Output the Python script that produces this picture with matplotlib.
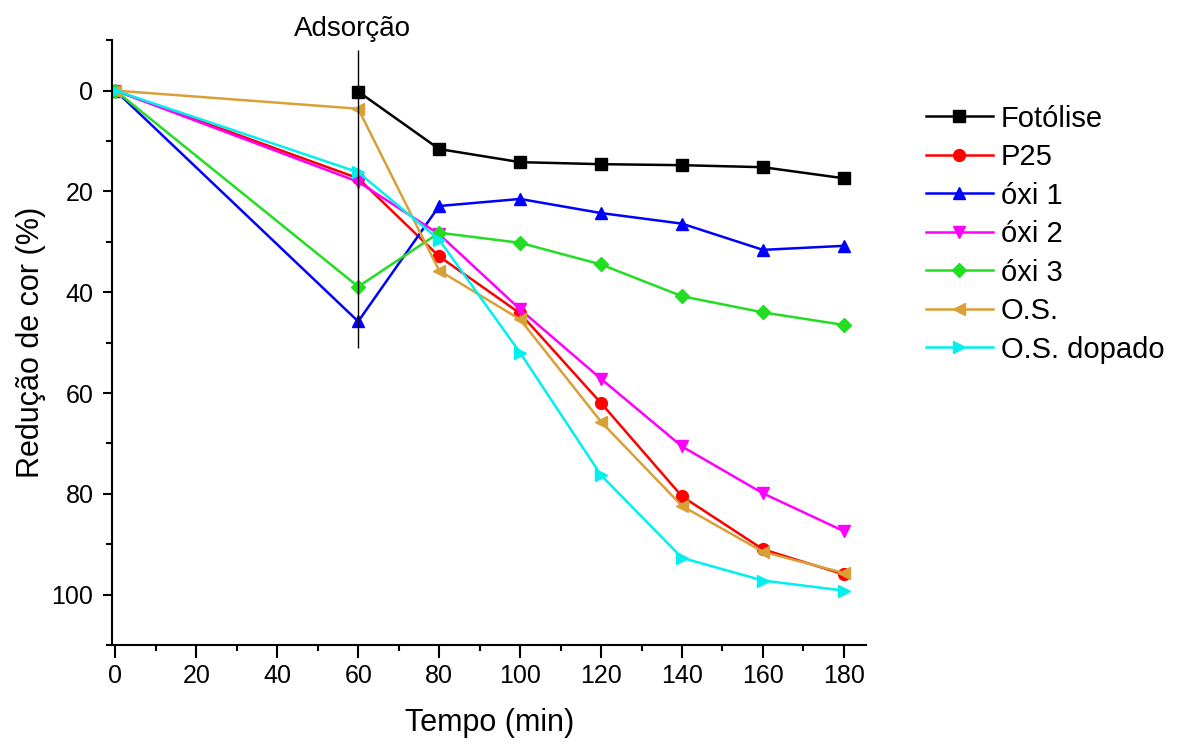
import numpy as np
import matplotlib
matplotlib.use("Agg")
import matplotlib.pyplot as plt
from matplotlib.ticker import MultipleLocator

plt.rcParams['font.family'] = ['Liberation Sans', 'DejaVu Sans']

# dados (tempo em min, reducao de cor em %)
tempo = [0, 60, 80, 100, 120, 140, 160, 180]
tempo_fot = [60, 80, 100, 120, 140, 160, 180]

fotolise = [0.2, 11.6, 14.2, 14.6, 14.8, 15.2, 17.4]
p25 = [0, 17.4, 32.9, 44.2, 62.0, 80.5, 91.0, 96.0]
oxi1 = [0, 45.8, 22.9, 21.5, 24.3, 26.4, 31.6, 30.8]
oxi2 = [0, 18.1, 28.5, 43.4, 57.2, 70.6, 79.9, 87.4]
oxi3 = [0, 38.9, 28.2, 30.2, 34.5, 40.8, 44.0, 46.5]
os_ = [0, 3.6, 35.7, 45.4, 65.7, 82.4, 91.5, 95.7]
os_dop = [0, 16.2, 29.6, 52.0, 76.3, 92.7, 97.2, 99.2]

fig = plt.figure(figsize=(11.93, 7.44), dpi=100)
ax = fig.add_axes([0.094, 0.133, 0.632, 0.813])

kw = dict(lw=1.8, ms=8.5)
ax.plot(tempo_fot, fotolise, '-s', color='black', label='Fotólise', lw=1.8, ms=8)
ax.plot(tempo, p25, '-o', color='#FF0000', label='P25', **kw)
ax.plot(tempo, oxi1, '-^', color='#0000FF', label='óxi 1', **kw)
ax.plot(tempo, oxi2, '-v', color='#FF00FF', label='óxi 2', **kw)
ax.plot(tempo, oxi3, '-D', color='#22DD22', label='óxi 3', lw=1.8, ms=7)
ax.plot(tempo, os_, '-<', color='#D9A038', label='O.S.', **kw)
ax.plot(tempo, os_dop, '->', color='#00F0F0', label='O.S. dopado', **kw)

# linha de adsorcao
ax.vlines(60, -8, 51, color='black', lw=1)
ax.text(58.5, -12.3, 'Adsorção', ha='center', va='center', fontsize=20, clip_on=False)

ax.set_xlim(-0.8, 185.5)
ax.set_ylim(110, -10)
ax.xaxis.set_major_locator(MultipleLocator(20))
ax.xaxis.set_minor_locator(MultipleLocator(10))
ax.yaxis.set_major_locator(MultipleLocator(20))
ax.yaxis.set_minor_locator(MultipleLocator(10))
ax.set_yticks([0, 20, 40, 60, 80, 100])

for s in ['top', 'right']:
    ax.spines[s].set_visible(False)
for s in ['left', 'bottom']:
    ax.spines[s].set_linewidth(1.5)

ax.tick_params(axis='x', which='major', direction='out', length=9, width=1.5, labelsize=18, pad=5)
ax.tick_params(axis='y', which='major', direction='out', length=6.5, width=1.5, labelsize=18, pad=7)
ax.tick_params(which='minor', direction='out', length=4, width=1.5)

ax.set_xlabel('Tempo (min)', fontsize=22, labelpad=14)
ax.set_ylabel('Redução de cor (%)', fontsize=22, labelpad=4)

ax.legend(loc='upper left', bbox_to_anchor=(0.766, 0.875), bbox_transform=fig.transFigure,
          frameon=False, fontsize=21, handlelength=2.3, handletextpad=0.28,
          labelspacing=0.36, borderaxespad=0)

fig.savefig('out.png', dpi=100)
